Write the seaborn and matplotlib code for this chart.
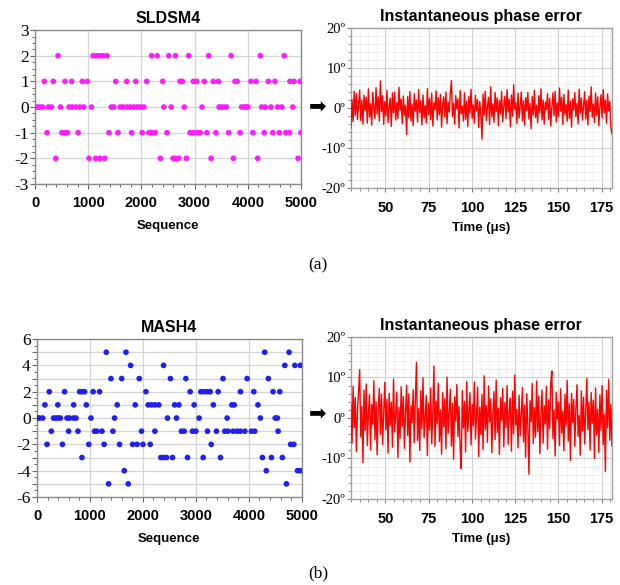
import numpy as np
import pandas as pd
import matplotlib
matplotlib.use("Agg")
import matplotlib.pyplot as plt
from matplotlib.ticker import MultipleLocator, FuncFormatter
import seaborn as sns

# ---------------- SLDSM4 output sequence (sample index per output level) ----------------
sldsm_p2 = [432, 1090, 1150, 1215, 1280, 1350, 2190, 2295, 2515, 2640, 2890, 3265,
            3685, 4235, 4685]
sldsm_p1 = [175, 344, 564, 690, 889, 983, 1517, 1724, 1893, 2100, 2400, 2726, 2769,
            2976, 3039, 3183, 3352, 3446, 3759, 3802, 4060, 4154, 4386, 4511, 4793,
            4868, 4981]
sldsm_0 = [0, 40, 90, 140, 250, 310, 480, 640, 700, 765, 840, 915, 1060, 1435, 1480,
           1600, 1655, 1730, 1790, 1855, 1920, 1980, 2045, 2420, 2560, 2805, 3140,
           3460, 3500, 3550, 3600, 3885, 3935, 3975, 4000, 4260, 4325, 4435, 4560,
           4640, 4845]
sldsm_m1 = [225, 505, 560, 610, 810, 1390, 1560, 1815, 2015, 2140, 2190, 2260, 2480,
            2915, 2980, 3045, 3105, 3230, 3400, 3640, 3855, 4095, 4310, 4470, 4590,
            4715, 4780, 5000]
sldsm_m2 = [390, 1015, 1140, 1225, 1310, 2355, 2595, 2640, 2700, 2845, 3310, 3728,
            4185, 4945]

# ---------------- MASH4 output sequence ----------------
mash_p5 = [1308, 1680, 4300, 4760]
mash_p4 = [1767, 2390, 4680, 4870, 4975]
mash_p3 = [1396, 1600, 1931, 2520, 2811, 3512, 3968, 4370]
mash_p2 = [232, 521, 805, 850, 898, 1060, 1181, 2057, 2892, 3094, 3157, 3219, 3270,
           3421, 3842, 4094, 4458, 4585]
mash_p1 = [150, 393, 692, 931, 1515, 1855, 2100, 2163, 2227, 2300, 2600, 2680, 2968,
           3330, 3680, 3725, 4173]
mash_0 = [0, 43, 106, 313, 358, 396, 440, 566, 615, 691, 736, 1019, 1464, 2464, 2634,
          3062, 3591, 4219, 4500, 4540]
mash_m1 = [270, 597, 774, 1087, 1132, 1226, 1434, 1974, 2226, 2728, 2779, 2936, 3000,
           3219, 3389, 3547, 3609, 3704, 3779, 3842, 3925, 4049, 4113, 4553]
mash_m2 = [189, 480, 978, 1267, 1559, 1805, 1890, 2000, 2138, 3290, 4790, 4850]
mash_m3 = [849, 2340, 2390, 2446, 2559, 2842, 3138, 3465, 4257, 4427, 4634]
mash_m4 = [1648, 4330, 4920, 4970]
mash_m5 = [1352, 1723, 4710]

# ---------------- instantaneous phase error (degrees), 30 us .. 181 us ----------------
sldsm_phase_err = [
    -5.0, 2.1, -3.4, 4.2, -1.8, 3.6, -2.9, 0.8, 4.5, -3.1, 1.9, -4.0,
    3.2, -0.6, 2.7, -3.8, 4.8, -2.2, 1.1, -4.3, 3.9, 0.4, -2.6, 5.1,
    -1.5, 2.8, -3.3, 6.8, -0.9, 3.1, -4.1, 1.6, -2.0, 4.4, -3.6, 0.3,
    2.5, -4.6, 3.8, -1.2, 4.0, -3.0, 1.4, -2.7, 5.2, -0.5, 2.2, -3.9,
    3.0, -1.9, 0.7, -6.6, 2.9, -2.4, 4.1, -3.2, 1.0, -4.4, 3.5, -0.8,
    2.0, -3.5, 4.6, -1.1, 1.8, -4.2, 3.3, -2.5, 0.6, -3.7, 4.9, -1.6,
    2.4, -2.9, 3.7, -4.5, 1.3, -0.4, 4.3, -3.0, 2.6, -1.7, 3.4, -4.8,
    0.9, 2.8, -2.3, 4.0, -3.9, 1.5, -1.0, 3.6, 6.9, -2.1, 1.2, -4.0,
    3.1, -0.2, 2.3, -5.0, 4.4, -1.4, 0.5, -3.3, 3.8, -2.8, 1.7, -4.6,
    2.9, -1.3, 4.7, -2.6, 0.8, -3.8, 3.2, -0.7, 2.1, -4.9, 1.6, -2.0,
    -7.8, 3.5, -1.8, 4.2, -3.1, 0.4, 2.7, -4.1, 5.3, -2.2, 1.0, -3.6,
    3.9, -0.9, 2.5, -4.4, 1.9, -1.5, 4.1, -3.4, 0.6, 3.0, -2.7, 4.6,
    -1.0, 2.2, -4.7, 3.3, -2.0, 5.8, -0.3, 1.4, -3.9, 3.7, -2.5, 0.9,
    4.0, -3.2, 1.8, -4.3, 2.6, -0.6, 3.9, -2.8, 1.1, -5.2, 2.9, -1.7,
    4.4, -2.4, 0.7, -3.7, 3.1, -1.2, 4.8, -3.0, 2.0, -4.0, 1.5, -0.4,
    3.6, -2.9, 2.4, -4.5, 0.3, 3.8, -1.9, 4.2, -3.5, 1.3, -2.2, 5.0,
    -0.8, 2.7, -4.1, 3.4, -1.6, 0.9, -3.3, 4.5, -2.6, 1.7, -4.8, 2.3,
    -0.5, 3.9, -2.1, 1.2, -3.9, 4.7, -1.3, 2.5, -3.0, 0.6, 4.1, -2.7,
    1.9, -4.2, 3.0, -0.9, 5.3, -2.3, 1.0, -3.6, 3.7, -1.8, 2.8, -4.4,
    0.4, 3.3, -2.5, 4.6, -1.1, 2.0, -3.8, 3.5, -0.7, 1.6, -4.6, -6.5,
]
mash_phase_err = [
    3.5, -6.2, 7.8, -2.4, 5.1, -8.3, 1.9, 6.6, 11.9, -4.7, 2.8, -11.0,
    6.9, -3.1, 8.4, -6.8, 0.9, 5.7, -7.9, 3.3, -1.6, 9.2, -5.4, 4.0,
    -9.1, 2.2, 7.3, -4.0, 5.9, -6.6, 1.4, 8.8, -2.9, 4.6, -8.7, 6.1,
    -1.8, 3.9, -7.2, 9.6, -3.5, 0.7, 6.4, -9.8, 2.6, -5.0, 7.7, -2.0,
    5.3, -7.5, 1.1, 8.1, -4.3, 6.0, -10.9, 3.0, -1.2, 7.0, -6.1, 4.4,
    13.7, -5.6, 2.3, -8.0, 6.7, -2.7, 9.9, -4.9, 0.5, 5.5, -9.3, 3.7,
    -3.0, 7.4, -6.4, 1.8, 12.8, -7.0, 4.2, -1.4, 8.6, -5.8, 2.0, -8.9,
    6.3, -2.2, 4.8, -7.6, 10.1, -3.8, 1.0, 7.1, -6.9, 3.6, -10.2, 5.2,
    -0.8, 8.3, -4.6, 2.9, -7.3, -12.5, 6.8, -2.5, 4.1, -8.4, 9.0, -3.3,
    1.5, 6.2, -6.7, 3.4, -1.9, 8.9, -5.2, 0.4, 7.6, -9.5, 2.7, -4.1,
    5.8, -7.8, 10.4, -2.8, 3.1, -6.0, 7.9, -1.0, 4.7, -8.6, 1.2, 6.5,
    -5.3, 9.4, -3.6, 2.4, -9.0, 5.0, -0.6, 7.3, -7.1, 3.8, -2.3, 8.0,
    -6.5, 1.6, 4.9, -8.2, 6.6, -3.9, 10.6, -1.7, 2.1, -7.4, 5.6, -4.4,
    0.8, 7.5, -5.9, 3.2, -9.7, 6.0, -2.1, -13.9, 4.3, -0.9, 8.5, -6.3,
    2.6, -4.8, 9.1, -3.4, 5.4, -8.8, 1.3, 6.9, -6.2, 3.0, -1.5, 7.8,
    -7.7, 4.5, -2.6, 8.7, 11.6, -5.1, 2.0, -9.4, 6.4, -0.3, 4.0, -6.8,
    7.2, -3.7, 1.7, -8.1, 5.8, -2.0, 9.3, -5.7, 3.5, -10.5, 6.1, -1.1,
    4.6, -7.0, 2.5, 8.2, -4.5, 0.6, -9.2, 6.7, -3.2, 5.1, -6.4, 1.9,
    9.8, -2.9, 3.9, -7.9, 6.3, -1.3, 4.4, -10.0, 7.4, -4.2, 2.2, -8.5,
    5.7, -3.0, 8.0, -6.6, 1.0, -13.2, 6.8, -2.4, 9.5, -5.5, 3.4, -6.9,
]
time_start_us, time_stop_us = 30, 181


def levels_frame(groups):
    rows = [(s, lvl) for lvl, seq in groups for s in seq]
    return pd.DataFrame(rows, columns=["sequence", "level"])


sldsm_df = levels_frame([(2, sldsm_p2), (1, sldsm_p1), (0, sldsm_0),
                         (-1, sldsm_m1), (-2, sldsm_m2)])
mash_df = levels_frame([(5, mash_p5), (4, mash_p4), (3, mash_p3), (2, mash_p2),
                        (1, mash_p1), (0, mash_0), (-1, mash_m1), (-2, mash_m2),
                        (-3, mash_m3), (-4, mash_m4), (-5, mash_m5)])

sns.set_theme(style="white")
plt.rcParams["font.family"] = ["Liberation Sans", "DejaVu Sans"]
plt.rcParams["text.color"] = "black"
plt.rcParams["axes.labelcolor"] = "black"
plt.rcParams["axes.titlecolor"] = "black"

SERIF = "Liberation Serif"
fig = plt.figure(figsize=(6.2, 5.85), dpi=100)
fig.patch.set_facecolor("white")


def frame(ax, color):
    for sp in ax.spines.values():
        sp.set_visible(True)
        sp.set_color(color)
        sp.set_linewidth(1.0)


def bold_xlabels(ax, size):
    for lbl in ax.get_xticklabels():
        lbl.set_fontweight("bold")
        lbl.set_fontsize(size)


def sequence_panel(rect, df, color, title, ylim, ylabel_step, yminor):
    ax = fig.add_axes(rect)
    sns.scatterplot(data=df, x="sequence", y="level", color=color, s=17,
                    edgecolor="none", legend=False, ax=ax, zorder=3)
    ax.set_xlim(0, 5000)
    ax.set_ylim(*ylim)
    ax.xaxis.set_major_locator(MultipleLocator(1000))
    ax.xaxis.set_minor_locator(MultipleLocator(200))
    ax.yaxis.set_major_locator(MultipleLocator(1))
    ax.yaxis.set_minor_locator(MultipleLocator(yminor))
    ax.yaxis.set_major_formatter(FuncFormatter(
        lambda v, p: f"{int(round(v))}" if round(v) % ylabel_step == 0 else ""))
    ax.grid(True, which="major", color="#d4d4d4", linewidth=0.9, zorder=0)
    ax.set_axisbelow(True)
    frame(ax, "#8a8a8a")
    ax.tick_params(axis="both", which="both", direction="out", colors="#666666",
                   labelcolor="black", left=True, bottom=True)
    ax.tick_params(axis="both", which="major", length=3.5, width=0.8)
    ax.tick_params(axis="both", which="minor", length=2.5, width=0.7)
    ax.tick_params(axis="y", labelfontfamily=SERIF, labelsize=12.5, pad=1)
    ax.tick_params(axis="x", pad=5)
    bold_xlabels(ax, 10.5)
    ax.set_xlabel("Sequence", fontweight="bold", fontsize=9.5, labelpad=7)
    ax.set_ylabel("")
    ax.set_title(title, fontweight="bold", fontsize=11.5, pad=5)
    return ax


def phase_panel(rect, values):
    ax = fig.add_axes(rect)
    t = np.linspace(time_start_us, time_stop_us, len(values))
    sns.lineplot(x=t, y=values, color="#ff0000", linewidth=1.0,
                 estimator=None, ax=ax, zorder=3)
    ax.set_xlim(time_start_us, time_stop_us)
    ax.set_ylim(-20, 20)
    ax.xaxis.set_major_locator(MultipleLocator(25))
    ax.xaxis.set_minor_locator(MultipleLocator(5))
    ax.yaxis.set_major_locator(MultipleLocator(10))
    ax.yaxis.set_minor_locator(MultipleLocator(2))
    ax.yaxis.set_major_formatter(FuncFormatter(lambda v, p: f"{int(round(v))}º"))
    ax.grid(True, which="major", color="#cfcfcf", linewidth=0.8, zorder=0)
    ax.grid(True, which="minor", color="#ececec", linewidth=0.6, zorder=0)
    ax.set_axisbelow(True)
    frame(ax, "#a0a0a0")
    ax.tick_params(axis="both", which="both", direction="out", colors="#777777",
                   labelcolor="black", left=True, bottom=True)
    ax.tick_params(axis="both", which="major", length=3, width=0.7)
    ax.tick_params(axis="both", which="minor", length=2, width=0.6)
    ax.tick_params(axis="y", labelfontfamily=SERIF, labelsize=10.5, pad=1)
    ax.tick_params(axis="x", pad=6)
    bold_xlabels(ax, 10.5)
    ax.set_xlabel("Time (μs)", fontweight="bold", fontsize=9.5, labelpad=5.5)
    ax.set_ylabel("")
    ax.set_title("Instantaneous phase error", fontweight="bold", fontsize=11.5, pad=5)
    return ax


sequence_panel([0.0565, 0.6855, 0.429, 0.263], sldsm_df, "#ff1cff", "SLDSM4",
               (-3, 3), 1, 0.25)
phase_panel([0.566, 0.6786, 0.421, 0.2735], sldsm_phase_err)
sequence_panel([0.0597, 0.1504, 0.427, 0.270], mash_df, "#2020f0", "MASH4",
               (-6, 6), 2, 0.5)
phase_panel([0.566, 0.147, 0.421, 0.277], mash_phase_err)

# arrows linking each sequence to its phase error
for y in (1 - 107 / 585, 1 - 414 / 585):
    fig.text(318 / 620, y, "➡", fontsize=15, ha="center", va="center",
             family="DejaVu Sans", color="black")

fig.text(318 / 620, 1 - 265 / 585, "(a)", family=SERIF, fontsize=12.5,
         ha="center", va="center")
fig.text(318 / 620, 1 - 573 / 585, "(b)", family=SERIF, fontsize=12.5,
         ha="center", va="center")

fig.savefig("out.png", dpi=100, facecolor="white")
